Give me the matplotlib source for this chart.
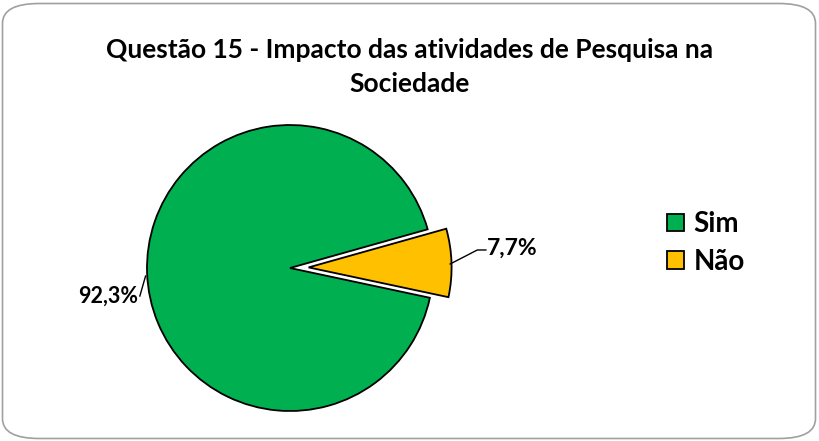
import numpy as np
import matplotlib.pyplot as plt
from matplotlib.patches import FancyBboxPatch

# dados
categorias = ['Sim', 'Não']
valores = [92.3, 7.7]
rotulos = ['92,3%', '7,7%']
cores = ['#00B050', '#FFC000']
titulo = 'Questão 15 - Impacto das atividades de Pesquisa na\nSociedade'

plt.rcParams['font.family'] = ['Lato', 'DejaVu Sans']

W, H = 819, 441
fig = plt.figure(figsize=(W / 100, H / 100), dpi=100, facecolor='white')

# moldura arredondada
borda = FancyBboxPatch((2.5 / W, 2.5 / H), (W - 6) / W, (H - 6) / H,
                       boxstyle='round,pad=0,rounding_size=0.045',
                       transform=fig.transFigure, facecolor='none',
                       edgecolor='#a0a0a0', linewidth=1.2, zorder=5)
fig.patches.append(borda)

fig.text(0.5, 1 - 67 / H, titulo, ha='center', va='center', fontsize=19,
         fontweight='bold', linespacing=1.55)

# eixo do gráfico de pizza (raio = 143 px, centro em (290, 268))
R = 143
cx, cy = 290, H - 268
half = 1.5 * R
ax = fig.add_axes([(cx - half) / W, (cy - half) / H, 2 * half / W, 2 * half / H])

wedges, _ = ax.pie(valores, colors=cores, startangle=15.7, counterclock=True,
                   explode=[0, 0.13], radius=1,
                   wedgeprops=dict(edgecolor='black', linewidth=1.3))
ax.set_xlim(-1.5, 1.5)
ax.set_ylim(-1.5, 1.5)
ax.set_aspect('equal')
ax.axis('off')
for w in wedges:
    w.set_clip_on(False)

# rótulos com linhas de chamada
ax.plot([-1.01, -1.05], [-0.056, -0.196], color='black', lw=1, clip_on=False)
ax.text(-1.065, -0.2, rotulos[0], ha='right', va='center', fontsize=15.5,
        fontweight='bold')
ax.plot([1.12, 1.31, 1.37], [0.028, 0.126, 0.126], color='black', lw=1,
        clip_on=False)
ax.text(1.38, 0.14, rotulos[1], ha='left', va='center', fontsize=16.5,
        fontweight='bold')

leg = fig.legend(wedges, categorias, loc='center left',
                 bbox_to_anchor=(667 / W, 1 - 243 / H), frameon=False,
                 borderpad=0, borderaxespad=0,
                 prop=dict(size=20, weight='bold'), handlelength=0.6,
                 handleheight=0.6, handletextpad=0.35, labelspacing=0.4)

fig.savefig('out.png', dpi=100)
